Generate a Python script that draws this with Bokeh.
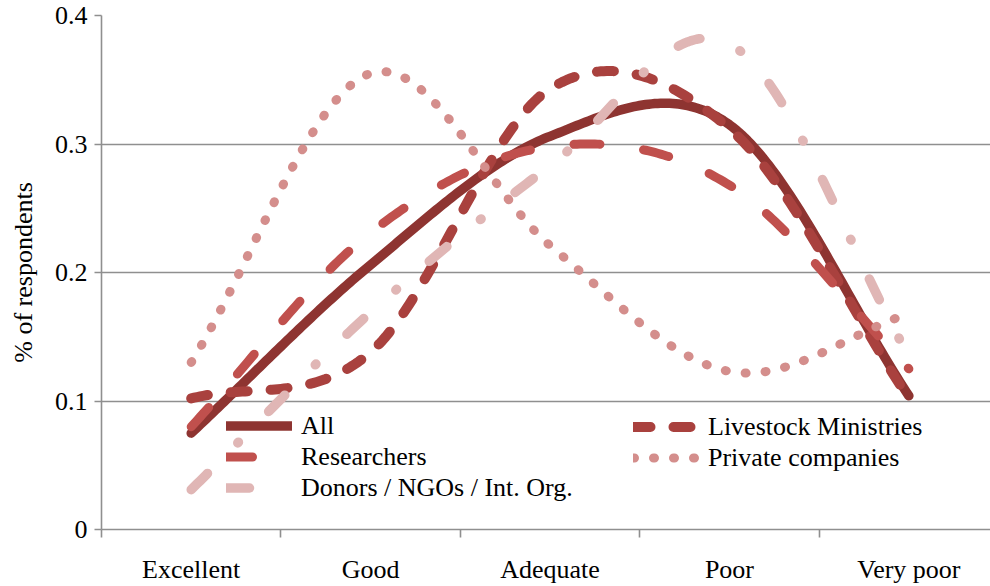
import numpy as np
from bokeh.plotting import figure
from bokeh.models import Range1d, FixedTicker, NumeralTickFormatter, Legend, LegendItem
from bokeh.embed import file_html
from bokeh.resources import INLINE

categories = ["Excellent", "Good", "Adequate", "Poor", "Very poor"]
all_resp = [0.075, 0.206, 0.306, 0.315, 0.104]
livestock = [0.102, 0.138, 0.343, 0.312, 0.102]
researchers = [0.080, 0.231, 0.298, 0.268, 0.125]
private = [0.130, 0.355, 0.221, 0.123, 0.168]
donors = [0.031, 0.169, 0.283, 0.378, 0.135]
y_ticks = [0, 0.1, 0.2, 0.3, 0.4]

FONT = "'Liberation Serif', 'Times New Roman', serif"
GRID = "#8f8f8f"


def smooth(vals, n=60):
    xc = np.arange(len(vals)) + 0.5
    P = np.column_stack([xc, np.asarray(vals, float)])
    ext = np.vstack([2 * P[0] - P[1], P, 2 * P[-1] - P[-2]])
    segs = []
    for i in range(len(P) - 1):
        p0, p1, p2, p3 = ext[i], ext[i + 1], ext[i + 2], ext[i + 3]
        c1 = p1 + (p2 - p0) / 6.0
        c2 = p2 - (p3 - p1) / 6.0
        t = np.linspace(0, 1, n, endpoint=(i == len(P) - 2))[:, None]
        seg = (1 - t) ** 3 * p1 + 3 * (1 - t) ** 2 * t * c1 + 3 * (1 - t) * t ** 2 * c2 + t ** 3 * p2
        segs.append(seg)
    pts = np.vstack(segs)
    return pts[:, 0], pts[:, 1]


p = figure(width=990, height=586, x_range=Range1d(0, 4.955), y_range=Range1d(0, 0.4),
           output_backend="svg", toolbar_location=None,
           min_border_left=101, min_border_right=0, min_border_top=15, min_border_bottom=48)
p.outline_line_color = None
p.background_fill_color = "white"
p.xgrid.visible = False
p.ygrid.grid_line_color = GRID
p.ygrid.grid_line_width = 1.6

# y axis
p.yaxis.ticker = FixedTicker(ticks=y_ticks)
p.yaxis.formatter = NumeralTickFormatter(format="0.[0]")
p.yaxis.axis_line_color = GRID
p.yaxis.axis_line_width = 1.6
p.yaxis.major_tick_line_color = GRID
p.yaxis.major_tick_line_width = 1.6
p.yaxis.major_tick_out = 7
p.yaxis.major_tick_in = 0
p.yaxis.minor_tick_line_color = None
p.yaxis.major_label_standoff = 7
p.yaxis.major_label_text_font = FONT
p.yaxis.major_label_text_font_size = "26px"
p.yaxis.major_label_text_color = "black"
p.yaxis.axis_label = "% of respondents"
p.yaxis.axis_label_text_font = FONT
p.yaxis.axis_label_text_font_size = "26px"
p.yaxis.axis_label_text_font_style = "normal"
p.yaxis.axis_label_text_color = "black"
p.yaxis.axis_label_standoff = 14

# x axis
centers = [i + 0.5 for i in range(len(categories))]
p.xaxis.ticker = FixedTicker(ticks=centers, minor_ticks=list(range(len(categories) + 1)))
p.xaxis.major_label_overrides = {c: lab for c, lab in zip(centers, categories)}
p.xaxis.axis_line_color = GRID
p.xaxis.axis_line_width = 1.6
p.xaxis.major_tick_line_color = None
p.xaxis.major_tick_out = 0
p.xaxis.major_tick_in = 0
p.xaxis.minor_tick_line_color = GRID
p.xaxis.minor_tick_line_width = 1.6
p.xaxis.minor_tick_out = 8
p.xaxis.minor_tick_in = 0
p.xaxis.major_label_standoff = 17
p.xaxis.major_label_text_font = FONT
p.xaxis.major_label_text_font_size = "26px"
p.xaxis.major_label_text_color = "black"

series = [
    ("All", all_resp, "#8e3431", 9.5, None),
    ("Livestock Ministries", livestock, "#a9413e", 10, "17 23"),
    ("Researchers", researchers, "#c0504d", 9, "26 44"),
    ("Private companies", private, "#d48e8c", 9, "1 19"),
    ("Donors / NGOs / Int. Org.", donors, "#e0b6b5", 9.5, "23 43 1 43"),
]
rend = {}
for name, vals, col, w, dash in series:
    xs, ys = smooth(vals)
    kw = dict(line_color=col, line_width=w, line_cap="round", line_join="round")
    if dash:
        kw["line_dash"] = dash
    rend[name] = p.line(xs, ys, **kw)


def make_legend(names, loc):
    lg = Legend(items=[LegendItem(label=n, renderers=[rend[n]]) for n in names],
                location=loc, padding=0, margin=0, spacing=0,
                glyph_width=66, glyph_height=31, label_height=31, label_standoff=9,
                label_text_font=FONT, label_text_font_size="26px", label_text_color="black",
                border_line_color=None, background_fill_alpha=0)
    return lg


p.add_layout(make_legend(["All", "Researchers", "Donors / NGOs / Int. Org."], (125, 26)))
p.add_layout(make_legend(["Livestock Ministries", "Private companies"], (532, 56)))

open("out.html", "w").write(file_html(p, INLINE))
